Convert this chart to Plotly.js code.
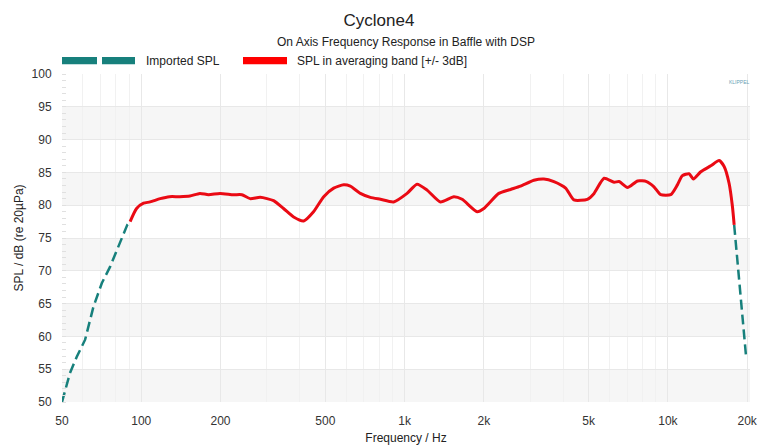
<!DOCTYPE html>
<html>
<head>
<meta charset="utf-8">
<script src="https://cdn.plot.ly/plotly-3.0.1.min.js"></script>
<style>html,body{margin:0;padding:0;background:#fff}#chart{width:758px;height:445px}</style>
</head>
<body>
<div id="chart"></div>
<script>
// Imported SPL below the averaging band (low end)
var freqLow = [50, 53.6, 56.9, 61.2, 65.8, 70.8, 76.1, 81.8, 88.5, 90.7];
var splLow  = [50.0, 54.4, 56.9, 59.5, 64.5, 68.1, 70.6, 73.7, 77.0, 77.5];

// SPL in averaging band
var freqBand = [90.7, 96, 102, 108, 118, 128, 140, 153, 167, 180, 199, 224, 241, 259, 283, 318, 347, 379, 414, 451,
  493, 538, 587, 622, 679, 741, 809, 909, 1022, 1115, 1217, 1368, 1538, 1654, 1886, 2000, 2280, 2526, 2756, 3097,
  3381, 3690, 4089, 4396, 4943, 5243, 5722, 6245, 6524, 7022, 7674, 8300, 8854, 9391, 10250, 10865, 11350, 12030,
  12500, 13330, 14550, 15650, 16350, 17080, 17580, 17850];
var splBand = [77.5, 79.5, 80.3, 80.5, 81.0, 81.3, 81.3, 81.4, 81.8, 81.6, 81.8, 81.6, 81.6, 81.0, 81.2, 80.7, 79.5, 78.2, 77.6, 79.0,
  81.3, 82.6, 83.1, 82.9, 81.8, 81.2, 80.9, 80.5, 81.8, 83.2, 82.3, 80.5, 81.3, 80.9, 79.0, 79.5, 81.8, 82.4, 82.9, 83.8,
  84.0, 83.6, 82.6, 80.8, 80.9, 81.8, 84.1, 83.5, 83.6, 82.7, 83.7, 83.6, 82.8, 81.6, 81.6, 83.1, 84.5, 84.8,
  84.0, 85.1, 86.0, 86.8, 85.9, 83.3, 79.8, 77.0];

// Imported SPL above the averaging band (high end)
var freqHigh = [17850, 18800, 19800];
var splHigh  = [77.0, 67.0, 57.0];

var tickVals = [50, 100, 200, 500, 1000, 2000, 5000, 10000, 20000];
var tickText = ['50', '100', '200', '500', '1k', '2k', '5k', '10k', '20k'];
var minorVals = [60, 70, 80, 90, 300, 400, 600, 700, 800, 900, 3000, 4000, 6000, 7000, 8000, 9000];
var yTicks = [50, 55, 60, 65, 70, 75, 80, 85, 90, 95, 100];
var grayBands = [[50, 55], [60, 65], [70, 75], [80, 85], [90, 95]];

var teal = '#17807c';
var red = '#ea0a14';
var font = 'Liberation Sans, Arial, sans-serif';

var importedX = freqLow.concat([null]).concat(freqHigh);
var importedY = splLow.concat([null]).concat(splHigh);

var traces = [
  {x: importedX, y: importedY, mode: 'lines', name: 'Imported SPL', showlegend: false,
   connectgaps: false, line: {color: teal, width: 2.5, dash: '10px,5px'}},
  {x: freqBand, y: splBand, mode: 'lines', name: 'SPL in averaging band [+/- 3dB]', showlegend: false,
   line: {color: red, width: 3, shape: 'spline', smoothing: 0.6}}
];

var shapes = grayBands.map(function (b) {
  return {type: 'rect', xref: 'paper', yref: 'y', x0: 0, x1: 1, y0: b[0], y1: b[1],
          fillcolor: '#f6f6f6', line: {width: 0}, layer: 'below'};
});
// legend symbols
shapes.push({type: 'rect', xref: 'paper', yref: 'paper', x0: 0, x1: 35 / 688, y0: 1.03, y1: 1.052,
             fillcolor: teal, line: {width: 0}});
shapes.push({type: 'rect', xref: 'paper', yref: 'paper', x0: 40 / 688, x1: 73 / 688, y0: 1.03, y1: 1.052,
             fillcolor: teal, line: {width: 0}});
shapes.push({type: 'rect', xref: 'paper', yref: 'paper', x0: 181 / 688, x1: 225 / 688, y0: 1.03, y1: 1.052,
             fillcolor: '#ff0000', line: {width: 0}});

var annotations = [
  {text: 'On Axis Frequency Response in Baffle with DSP', xref: 'paper', yref: 'paper', x: 0.5, y: 1.0 + 32 / 328,
   xanchor: 'center', yanchor: 'middle', showarrow: false, font: {family: font, size: 12, color: '#222'}},
  {text: 'Imported SPL', xref: 'paper', yref: 'paper', x: 82 / 688, y: 1.041, xanchor: 'left', yanchor: 'middle',
   showarrow: false, font: {family: font, size: 12, color: '#222'}},
  {text: 'SPL in averaging band [+/- 3dB]', xref: 'paper', yref: 'paper', x: 233 / 688, y: 1.041, xanchor: 'left',
   yanchor: 'middle', showarrow: false, font: {family: font, size: 12, color: '#222'}},
  {text: 'KLIPPEL', xref: 'paper', yref: 'paper', x: 0.985, y: 0.975, xanchor: 'center', yanchor: 'middle',
   showarrow: false, font: {family: font, size: 5, color: '#6a9fb5'}}
];

var layout = {
  width: 758, height: 445,
  margin: {l: 62, r: 8, t: 74, b: 43, pad: 0},
  paper_bgcolor: '#fff', plot_bgcolor: '#fff',
  showlegend: false,
  title: {text: 'Cyclone4', x: 0.5, xanchor: 'center', y: 1 - 20 / 445, yanchor: 'middle',
          font: {family: font, size: 17, color: '#222'}},
  xaxis: {type: 'log', range: [Math.log10(50), Math.log10(20500)], tickmode: 'array',
          tickvals: tickVals, ticktext: tickText, showgrid: true, gridcolor: '#e8e8e8', gridwidth: 1,
          zeroline: false, showline: false, ticks: 'outside', ticklen: 8, tickcolor: 'rgba(0,0,0,0)',
          tickfont: {family: font, size: 12, color: '#333'},
          minor: {tickvals: minorVals, showgrid: true, gridcolor: '#f1f1f1', gridwidth: 1, ticks: ''},
          title: {text: 'Frequency / Hz', standoff: 6, font: {family: font, size: 12, color: '#222'}}},
  yaxis: {range: [50, 100], tickvals: yTicks, showgrid: true, gridcolor: '#e8e8e8', gridwidth: 1,
          zeroline: false, showline: false, ticks: 'outside', ticklen: 7, tickcolor: 'rgba(0,0,0,0)',
          tickfont: {family: font, size: 12, color: '#333'},
          minor: {dtick: 1, ticks: 'inside', ticklen: 4, tickcolor: '#e0e0e0', showgrid: false},
          title: {text: 'SPL / dB (re 20µPa)', standoff: 5, font: {family: font, size: 12, color: '#222'}}},
  shapes: shapes,
  annotations: annotations
};

Plotly.newPlot('chart', traces, layout, {displayModeBar: false, staticPlot: true});
</script>
</body>
</html>
